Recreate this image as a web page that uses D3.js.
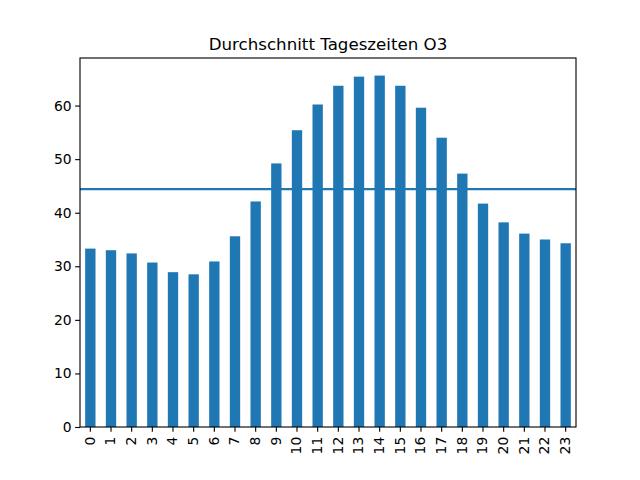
<!DOCTYPE html>
<html><head><meta charset="utf-8">
<script src="https://cdn.jsdelivr.net/npm/d3@7"></script>
<style>body{margin:0;background:#fff}svg{display:block}text{font-family:"DejaVu Sans",sans-serif;fill:#000}</style>
</head><body>
<svg id="c" width="640" height="480"></svg>
<script>
const hours = ["0","1","2","3","4","5","6","7","8","9","10","11","12","13","14","15","16","17","18","19","20","21","22","23"];
const o3Values = [33.3,33.0,32.4,30.7,28.9,28.5,30.9,35.6,42.1,49.2,55.4,60.2,63.7,65.4,65.6,63.7,59.6,54.0,47.3,41.7,38.2,36.1,35.0,34.3];
const meanValue = 44.4;
const yTicks = [0,10,20,30,40,50,60];
const title = "Durchschnitt Tageszeiten O3";

const svg = d3.select("#c");
const L=80, R=576, T=58, B=427;
const fs = 10*100/72;
const x = d3.scaleBand().domain(hours).range([L,R]).paddingInner(0.5).paddingOuter(0.25);
const y = d3.scaleLinear().domain([0, d3.max(o3Values)*1.05]).range([B,T]);

svg.append("g").selectAll("rect").data(o3Values).join("rect")
  .attr("x",(d,i)=>x(hours[i])).attr("width",x.bandwidth())
  .attr("y",d=>y(d)).attr("height",d=>y(0)-y(d)).attr("fill","#1f77b4");

svg.append("line").attr("x1",L).attr("x2",R).attr("y1",y(meanValue)).attr("y2",y(meanValue))
  .attr("stroke","#1f77b4").attr("stroke-width",2.08);

const ya = svg.append("g").attr("transform",`translate(${L},0)`)
  .call(d3.axisLeft(y).tickValues(yTicks).tickSize(4.86*0.72).tickPadding(4.86).tickFormat(d3.format("d")));
const xa = svg.append("g").attr("transform",`translate(0,${B})`)
  .call(d3.axisBottom(x).tickSize(3.5*100/72).tickPadding(4.86));
[ya,xa].forEach(a=>{a.select(".domain").remove();a.selectAll("line").attr("stroke","#000").attr("stroke-width",0.8*100/72);a.selectAll("text").attr("font-size",fs).attr("font-family","DejaVu Sans");});
ya.selectAll("line").attr("x2",-3.5*100/72);
xa.selectAll("text").attr("transform","rotate(-90)").attr("text-anchor","end")
  .attr("x",-(3.5*100/72+4.86)).attr("y",0).attr("dy","0.32em");

svg.append("rect").attr("x",L).attr("y",T).attr("width",R-L).attr("height",B-T)
  .attr("fill","none").attr("stroke","#000").attr("stroke-width",0.8*100/72);

svg.append("text").attr("x",(L+R)/2).attr("y",T-8.3).attr("text-anchor","middle")
  .attr("font-size",12*100/72).text(title);
</script>
</body></html>
